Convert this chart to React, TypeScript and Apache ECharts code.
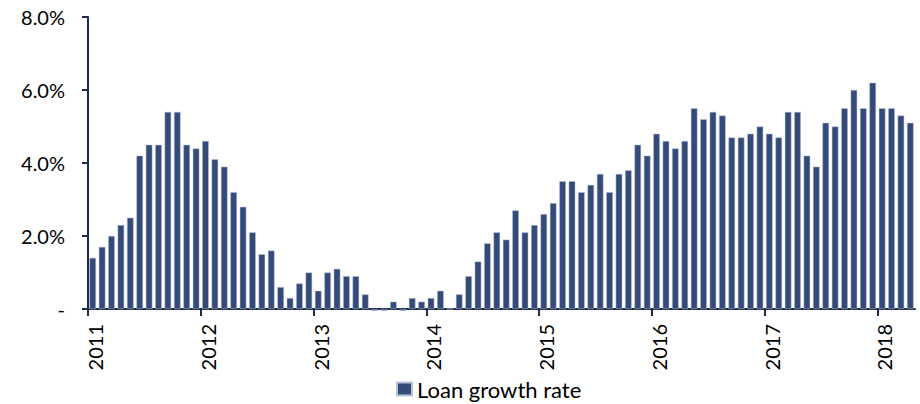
import React, { useEffect, useRef } from "react";
import * as echarts from "echarts";

const yearLabels = ["2011", "2012", "2013", "2014", "2015", "2016", "2017", "2018"];
const growth2011 = [1.4, 1.7, 2.0, 2.3, 2.5, 4.2, 4.5, 4.5, 5.4, 5.4, 4.5, 4.4];
const growth2012 = [4.6, 4.1, 3.9, 3.2, 2.8, 2.1, 1.5, 1.6, 0.6, 0.3, 0.7, 1.0];
const growth2013 = [0.5, 1.0, 1.1, 0.9, 0.9, 0.4, -0.05, -0.05, 0.2, -0.05, 0.3, 0.2];
const growth2014 = [0.3, 0.5, 0.0, 0.4, 0.9, 1.3, 1.8, 2.1, 1.9, 2.7, 2.1, 2.3];
const growth2015 = [2.6, 2.9, 3.5, 3.5, 3.2, 3.4, 3.7, 3.2, 3.7, 3.8, 4.5, 4.2];
const growth2016 = [4.8, 4.6, 4.4, 4.6, 5.5, 5.2, 5.4, 5.3, 4.7, 4.7, 4.8, 5.0];
const growth2017 = [4.8, 4.7, 5.4, 5.4, 4.2, 3.9, 5.1, 5.0, 5.5, 6.0, 5.5, 6.2];
const growth2018 = [5.5, 5.5, 5.3, 5.1];

const loanGrowth = [
  ...growth2011, ...growth2012, ...growth2013, ...growth2014,
  ...growth2015, ...growth2016, ...growth2017, ...growth2018,
];
const months = loanGrowth.map((_, i) => {
  const y = 2011 + Math.floor(i / 12);
  const m = (i % 12) + 1;
  return `${y}-${m < 10 ? "0" + m : m}`;
});
const yearTickPos = yearLabels.map((_, i) => i * 12);

const FONT = "Lato";
const AXIS = "#1f2b4a";
const BAR = "#344a78";

export default function App() {
  const ref = useRef<HTMLDivElement>(null);
  useEffect(() => {
    if (!ref.current) return;
    const chart = echarts.init(ref.current, undefined, { renderer: "svg" });
    chart.setOption({
      animation: false,
      textStyle: { fontFamily: FONT, fontSize: 20 },
      grid: { left: 88, right: 5, top: 17, bottom: 95, containLabel: false },
      legend: {
        data: ["Loan growth rate"],
        left: 391,
        top: 372,
        itemWidth: 15,
        itemHeight: 13,
        itemGap: 5,
        icon: "rect",
        textStyle: { fontFamily: FONT, fontSize: 22, lineHeight: 24, color: "#000" },
      },
      xAxis: [
        {
          type: "category",
          data: months,
          axisLine: { show: true, lineStyle: { color: AXIS, width: 2 } },
          axisTick: { show: false },
          axisLabel: { show: false },
        },
        {
          type: "value",
          min: 0,
          max: loanGrowth.length,
          position: "bottom",
          axisLine: { show: false },
          splitLine: { show: false },
          axisTick: {
            show: true,
            customValues: yearTickPos,
            length: 7,
            lineStyle: { color: AXIS, width: 2 },
          },
          axisLabel: {
            customValues: yearTickPos,
            rotate: 90,
            margin: 15,
            fontSize: 20,
            color: "#000",
            fontFamily: FONT,
            verticalAlign: "top",
            lineHeight: 14,
            formatter: (v: number) => yearLabels[Math.round(v / 12)] ?? "",
          },
        },
      ],
      yAxis: {
        type: "value",
        min: 0,
        max: 8,
        interval: 2,
        axisLine: { show: true, lineStyle: { color: AXIS, width: 2 } },
        axisTick: { show: true, length: 6, lineStyle: { color: AXIS, width: 2 } },
        splitLine: { show: false },
        axisLabel: {
          margin: 23,
          fontSize: 20,
          color: "#000",
          fontFamily: FONT,
          formatter: (v: number) => (v === 0 ? "-" : v.toFixed(1) + "%"),
        },
      },
      series: [
        {
          name: "Loan growth rate",
          type: "bar",
          xAxisIndex: 0,
          data: loanGrowth,
          barCategoryGap: "30%",
          clip: false,
          itemStyle: { color: BAR, borderColor: "#b9c3d8", borderWidth: 0.5 },
          z: 1,
        },
      ],
    });
    return () => chart.dispose();
  }, []);
  return <div ref={ref} style={{ width: 920, height: 404, position: "absolute", left: 0, top: 0 }} />;
}
